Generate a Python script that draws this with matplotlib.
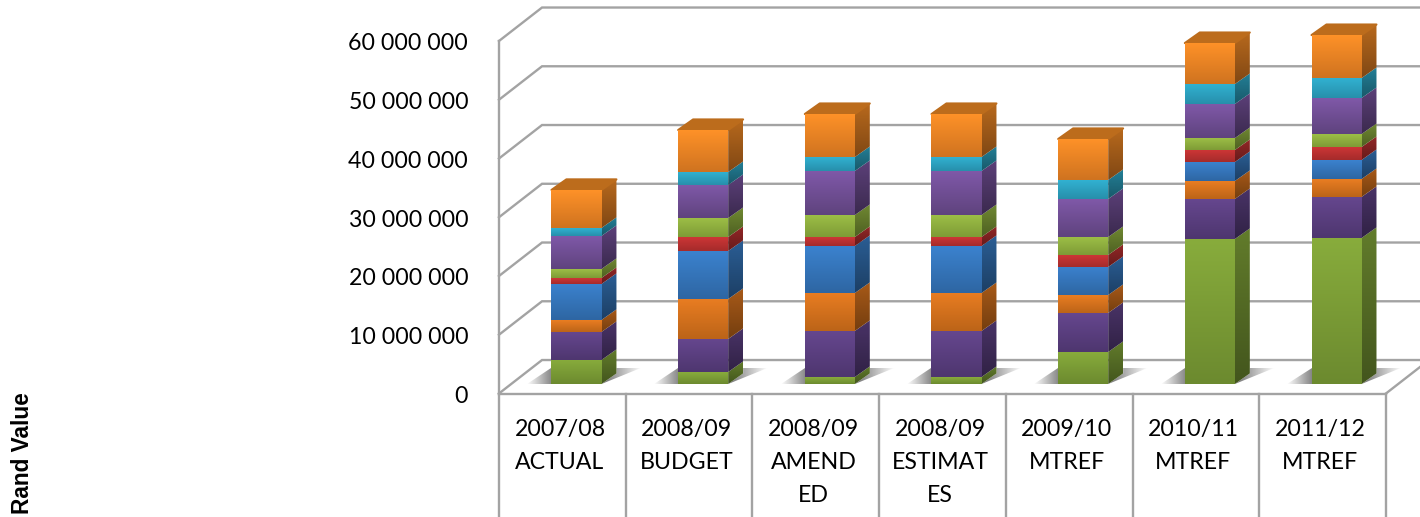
import numpy as np
import matplotlib
matplotlib.use('Agg')
import matplotlib.pyplot as plt
from matplotlib.colors import to_rgb
from matplotlib.patches import Polygon

categories = ['2007/08\nACTUAL', '2008/09\nBUDGET', '2008/09\nAMEND\nED', '2008/09\nESTIMAT\nES',
              '2009/10\nMTREF', '2010/11\nMTREF', '2011/12\nMTREF']
y_ticks = [0, 10000000, 20000000, 30000000, 40000000, 50000000, 60000000]

# stacked from the floor upwards
green_low = [4090000, 2040000, 1190000, 1190000, 5450000, 24680000, 24850000]
purple_low = [4770000, 5620000, 7830000, 7830000, 6640000, 6810000, 6980000]
orange_low = [2040000, 6810000, 6470000, 6470000, 3060000, 3060000, 3060000]
blue = [6130000, 8170000, 8000000, 8000000, 4770000, 3230000, 3230000]
red = [1020000, 2380000, 1530000, 1530000, 2040000, 2040000, 2210000]
green_high = [1530000, 3230000, 3740000, 3740000, 3060000, 2040000, 2210000]
purple_high = [5620000, 5620000, 7490000, 7490000, 6470000, 5790000, 6130000]
teal = [1360000, 2210000, 2380000, 2380000, 3230000, 3400000, 3400000]
orange_high = [6470000, 7150000, 7320000, 7320000, 6980000, 6980000, 7320000]

series = [green_low, purple_low, orange_low, blue, red, green_high, purple_high, teal, orange_high]
top_colors = ['#88AC3C', '#66478F', '#E97D22', '#3B82CE', '#CC3636', '#9CBE46', '#8059A9', '#31B1D1', '#FF9228']
low_colors = ['#6C8A2F', '#4E366F', '#BC6418', '#2E66A3', '#A52B2B', '#7E9B36', '#5F437E', '#278FAB', '#CF7320']

GRID = '#A3A3A3'
LW = 1.7
WIDTH = 0.395      # bar width
BAR_DX = 0.118     # bar depth in x
BAR_DY = 1800000   # bar depth in y
WALL_DX = 0.34     # wall depth in x
WALL_DY = 5700000  # wall depth in y
FRONT_Y = -1620000 # front edge of the floor sits under the bars
LEFT = -0.612
RIGHT = 6.39
XMIN, XMAX = -4.551, 6.659
YMIN, YMAX = -22640000, 65360000
SHADOW_Y = 2720000


def shade(color, k):
    return tuple(np.array(to_rgb(color)) * k)


def fill_poly(ax, pts, c0, c1, horizontal=False, zorder=3):
    # polygon filled by a linear gradient, c0 at the top/left and c1 at the bottom/right
    pts = np.array(pts)
    t = np.linspace(0, 1, 64)
    img = np.outer(1 - t, to_rgb(c0)) + np.outer(t, to_rgb(c1))
    img = img[np.newaxis, :, :] if horizontal else img[:, np.newaxis, :]
    extent = (pts[:, 0].min(), pts[:, 0].max(), pts[:, 1].min(), pts[:, 1].max())
    im = ax.imshow(img, extent=extent, origin='upper', aspect='auto', zorder=zorder, interpolation='bilinear')
    patch = Polygon(pts, closed=True, transform=ax.transData, fc='none', ec='none')
    ax.add_patch(patch)
    im.set_clip_path(patch)


fig = plt.figure(figsize=(14.2, 5.17), dpi=100)
ax = fig.add_axes([0, 0, 1, 1])
ax.set_axis_off()

# walls and floor
for v in y_ticks:
    y = v + FRONT_Y
    ax.plot([LEFT, LEFT + WALL_DX, XMAX], [y, y + WALL_DY, y + WALL_DY], color=GRID, lw=LW, zorder=1,
            solid_joinstyle='miter')
ax.plot([LEFT, LEFT], [FRONT_Y, y_ticks[-1] + FRONT_Y], color=GRID, lw=LW, zorder=1)
ax.plot([RIGHT, XMAX], [FRONT_Y, FRONT_Y + (XMAX - RIGHT) / WALL_DX * WALL_DY], color=GRID, lw=LW, zorder=1)

# table under the floor
ax.plot([LEFT, RIGHT], [FRONT_Y, FRONT_Y], color=GRID, lw=LW, zorder=1)
for i in range(len(categories) + 1):
    x = LEFT + i * (RIGHT - LEFT) / len(categories)
    ax.plot([x, x], [FRONT_Y, YMIN], color=GRID, lw=LW, zorder=1)

for v in y_ticks:
    label = '{:,}'.format(v).replace(',', ' ')
    ax.text(-0.855, v + FRONT_Y - 500000, label, ha='right', va='center', fontsize=16.7, family='Lato', color='black')

for i, name in enumerate(categories):
    ax.text(i - 0.13, -5930000, name, ha='center', va='top', fontsize=16.7, family='Lato',
            color='black', linespacing=1.72)

ax.text(-4.375, -11750000, 'Rand Value', rotation=90, ha='center', va='center', fontsize=16.3,
        family='Liberation Sans', weight='bold', color='black')

# bars
for i in range(len(categories)):
    x0 = i - WIDTH / 2
    x1 = i + WIDTH / 2
    # shadow on the floor, left of the bar and right of it
    fill_poly(ax, [(x0 - 0.19, 0), (x0 + 0.02, 0), (x0 + 0.02, SHADOW_Y), (x0, SHADOW_Y)],
              '#FFFFFF', '#7C7C7C', horizontal=True, zorder=2)
    fill_poly(ax, [(x1, 0), (x1 + BAR_DX, BAR_DY), (x1 + BAR_DX, SHADOW_Y), (x1 + 0.31, SHADOW_Y)],
              '#707070', '#FFFFFF', horizontal=True, zorder=2)
    bottom = 0
    for k, vals in enumerate(series):
        top = bottom + vals[i]
        fill_poly(ax, [(x0, bottom), (x1, bottom), (x1, top), (x0, top)], top_colors[k], low_colors[k], zorder=5)
        fill_poly(ax, [(x1, bottom), (x1 + BAR_DX, bottom + BAR_DY), (x1 + BAR_DX, top + BAR_DY), (x1, top)],
                  shade(top_colors[k], 0.72), shade(low_colors[k], 0.62), zorder=4)
        bottom = top
    # lid of the bar
    ax.add_patch(Polygon([(x0, bottom), (x1, bottom), (x1 + BAR_DX, bottom + BAR_DY), (x0 + BAR_DX, bottom + BAR_DY)],
                         closed=True, fc='#BC6C1C', ec='#BC6C1C', lw=1.5, joinstyle='round', zorder=4))

ax.set_xlim(XMIN, XMAX)
ax.set_ylim(YMIN, YMAX)
fig.savefig('out.png', dpi=100)
